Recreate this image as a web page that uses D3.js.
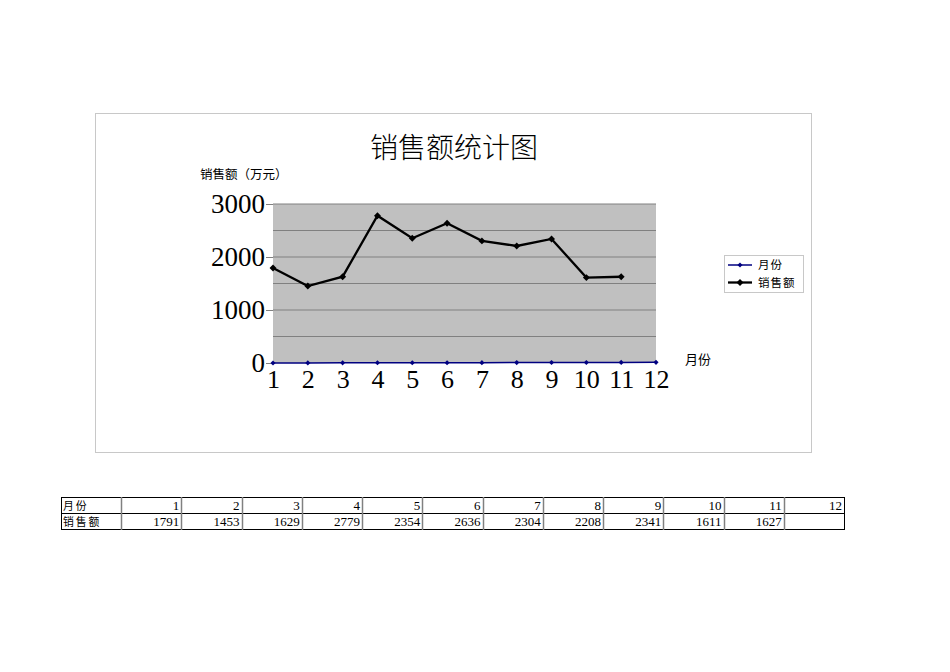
<!DOCTYPE html>
<html>
<head>
<meta charset="utf-8">
<script src="https://cdn.jsdelivr.net/npm/d3@7"></script>
<style>
  body { margin: 0; background: #fff; }
  svg { display: block; }
</style>
</head>
<body>
<svg id="chart" width="950" height="672"></svg>
<script>
// 销售额统计图 - monthly sales chart with data table below

const months = [1, 2, 3, 4, 5, 6, 7, 8, 9, 10, 11, 12];
const sales = [1791, 1453, 1629, 2779, 2354, 2636, 2304, 2208, 2341, 1611, 1627, null];
const seriesNames = ["月份", "销售额"];
const yTicks = [0, 1000, 2000, 3000];
const yMinor = [500, 1500, 2500];

const cjk = '"Noto Sans CJK SC", "Noto Sans", sans-serif';
const serif = '"Liberation Serif", "DejaVu Serif", serif';

const svg = d3.select('#chart');

// chart frame
svg.append('rect')
    .attr('x', 95.5).attr('y', 113.5)
    .attr('width', 716).attr('height', 339)
    .attr('fill', '#fff').attr('stroke', '#c8c8c8');

const plot = {left: 273, right: 656, top: 204, bottom: 363};

const x = d3.scalePoint().domain(months).range([plot.left, plot.right]);
const y = d3.scaleLinear().domain([0, 3000]).range([plot.bottom, plot.top]);

// plot area
svg.append('rect')
    .attr('x', plot.left).attr('y', plot.top)
    .attr('width', plot.right - plot.left).attr('height', plot.bottom - plot.top)
    .attr('fill', '#c0c0c0');

// gridlines every 500
svg.selectAll('.grid')
    .data(yTicks.concat(yMinor).filter(d => d > 0))
    .enter().append('line')
    .attr('class', 'grid')
    .attr('x1', plot.left).attr('x2', plot.right)
    .attr('y1', d => y(d)).attr('y2', d => y(d))
    .attr('stroke', '#808080').attr('stroke-width', 1);

// y axis
const yAxis = svg.append('g')
    .attr('transform', `translate(${plot.left},0)`)
    .call(d3.axisLeft(y).tickValues(yTicks).tickSize(7).tickPadding(1).tickFormat(d3.format('d')));
yAxis.select('.domain').remove();
yAxis.selectAll('.tick line').attr('stroke', '#808080');
yAxis.selectAll('text')
    .attr('font-family', serif).attr('font-size', 27).attr('fill', '#000')
    .attr('dy', '0.33em');

// x axis labels
const xAxis = svg.append('g')
    .attr('transform', `translate(0,${plot.bottom})`)
    .call(d3.axisBottom(x).tickSize(0).tickPadding(7));
xAxis.select('.domain').remove();
xAxis.selectAll('text')
    .attr('font-family', serif).attr('font-size', 26).attr('fill', '#000')
    .attr('dy', '0.71em');

// rotated-square marker like the spreadsheet diamond
const diamond = s => d3.symbol().type(d3.symbolSquare).size(s)();

// 月份 series (values 1..12, hugging the baseline)
svg.append('path')
    .datum(months)
    .attr('d', d3.line().x(d => x(d)).y(d => y(d)))
    .attr('fill', 'none').attr('stroke', '#000080').attr('stroke-width', 1.5);

svg.selectAll('.mMark')
    .data(months)
    .enter().append('path')
    .attr('class', 'mMark')
    .attr('d', diamond(13))
    .attr('transform', d => `translate(${x(d)},${y(d)}) rotate(45)`)
    .attr('fill', '#000080');

// 销售额 series
const salesData = months.map((m, i) => ({m, v: sales[i]})).filter(d => d.v != null);
svg.append('path')
    .datum(salesData)
    .attr('d', d3.line().x(d => x(d.m)).y(d => y(d.v)))
    .attr('fill', 'none').attr('stroke', '#000').attr('stroke-width', 2.3);

svg.selectAll('.sMark')
    .data(salesData)
    .enter().append('path')
    .attr('class', 'sMark')
    .attr('d', diamond(24))
    .attr('transform', d => `translate(${x(d.m)},${y(d.v)}) rotate(45)`)
    .attr('fill', '#000');

// titles
svg.append('text')
    .attr('x', 454).attr('y', 158)
    .attr('text-anchor', 'middle')
    .attr('font-family', cjk).attr('font-size', 28).attr('font-weight', 300)
    .text('销售额统计图');

svg.append('text')
    .attr('x', 200).attr('y', 179)
    .attr('font-family', cjk).attr('font-size', 12.5)
    .text('销售额（万元）');

svg.append('text')
    .attr('x', 685).attr('y', 364)
    .attr('font-family', cjk).attr('font-size', 13)
    .text('月份');

// legend
const legend = svg.append('g').attr('transform', 'translate(724,255)');
legend.append('rect')
    .attr('x', 0.5).attr('y', 0.5).attr('width', 79).attr('height', 37)
    .attr('fill', '#fff').attr('stroke', '#c8c8c8');
const legendColors = ['#000080', '#000'];
const legendItems = legend.selectAll('.item')
    .data(seriesNames)
    .enter().append('g')
    .attr('transform', (d, i) => `translate(0,${10 + i * 17.5})`);
legendItems.append('line')
    .attr('x1', 4).attr('x2', 28)
    .attr('stroke', (d, i) => legendColors[i])
    .attr('stroke-width', (d, i) => i ? 2.3 : 1.5);
legendItems.append('path')
    .attr('d', (d, i) => diamond(i ? 24 : 13))
    .attr('transform', 'translate(16,0) rotate(45)')
    .attr('fill', (d, i) => legendColors[i]);
legendItems.append('text')
    .attr('x', 34).attr('dy', '0.36em')
    .attr('font-family', cjk).attr('font-size', 11.5)
    .attr('letter-spacing', 1)
    .text(d => d);

// data table
const table = {left: 61, top: 497, rowH: 16, headW: 60, colW: 60.25};
const rows = [
  {name: seriesNames[0], vals: months},
  {name: seriesNames[1], vals: sales}
];
const tg = svg.append('g');
rows.forEach((r, ri) => {
  const yy = table.top + ri * table.rowH;
  tg.append('text')
      .attr('x', table.left + 2).attr('y', yy + 12.5)
      .attr('font-family', cjk).attr('font-size', 10.8)
      .attr('letter-spacing', 2)
      .text(r.name);
  tg.selectAll(null)
      .data(r.vals)
      .enter().append('text')
      .attr('x', (d, i) => table.left + table.headW + (i + 1) * table.colW - 2)
      .attr('y', yy + 13)
      .attr('text-anchor', 'end')
      .attr('font-family', serif).attr('font-size', 13)
      .text(d => d == null ? '' : d);
});
// grid of table
const colEdges = [table.left, table.left + table.headW].concat(months.map((m, i) => table.left + table.headW + (i + 1) * table.colW));
const right = colEdges[colEdges.length - 1];
[0, 1, 2].forEach(k => {
  tg.append('line')
      .attr('x1', table.left).attr('x2', right)
      .attr('y1', table.top + k * table.rowH + 0.5).attr('y2', table.top + k * table.rowH + 0.5)
      .attr('stroke', '#000');
});
colEdges.forEach((cx, i) => {
  const edge = i === 0 || i === colEdges.length - 1;
  tg.append('line')
      .attr('x1', Math.round(cx) + 0.5).attr('x2', Math.round(cx) + 0.5)
      .attr('y1', table.top).attr('y2', table.top + 2 * table.rowH + 1)
      .attr('stroke', edge ? '#000' : '#808080')
      .attr('stroke-width', edge ? 1 : 1.5);
});
</script>
</body>
</html>
